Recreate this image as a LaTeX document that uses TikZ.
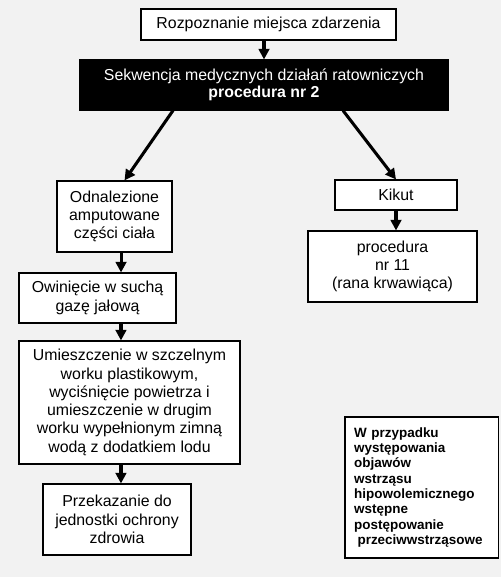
\documentclass[tikz,border=0pt]{standalone}
\usepackage{fontspec}
\setmainfont{Liberation Sans}
\usetikzlibrary{arrows.meta}
\tikzset{
  box/.style={draw=black, fill=white, line width=0.8pt, inner sep=0pt, align=center,
    font=\fontsize{11.9}{13.7}\selectfont},
  blackbox/.style={box, fill=black, text=white, font=\fontsize{11.9}{12.9}\selectfont},
  notebox/.style={draw=black, fill=white, line width=0.8pt, inner sep=0pt, align=left,
    font=\fontsize{10.1}{11.5}\selectfont\bfseries},
  arr/.style={line width=2.3pt, -{Triangle[length=8pt,width=8pt]}}
}
\begin{document}
\begin{tikzpicture}[x=0.75pt,y=-0.75pt]
\useasboundingbox[fill={rgb,255:red,242;green,242;blue,242}] (0,0) rectangle (501,577);
% boxes
\node[box, minimum width=191.25pt, minimum height=23.25pt] (rozp) at (268.5,24.5) {Rozpoznanie miejsca zdarzenia};
\node[blackbox, minimum width=276pt, minimum height=37.5pt] (seq) at (264,85) {Sekwencja medycznych działań ratowniczych\\\textbf{procedura nr 2}};
\node[box, minimum width=86.25pt, minimum height=53.25pt] (odn) at (114.5,216.5) {Odnalezione\\amputowane\\ części ciała};
\node[box, minimum width=117.75pt, minimum height=37.5pt] (owin) at (97.5,298) {Owinięcie w suchą\\gazę jałową};
\node[box, minimum width=165.75pt, minimum height=92.25pt] (umi) at (129.5,402.5) {Umieszczenie w szczelnym\\worku plastikowym,\\wyciśnięcie powietrza i\\umieszczenie w drugim\\worku wypełnionym zimną\\wodą z dodatkiem lodu};
\node[box, minimum width=111pt, minimum height=53.25pt] (prz) at (117,519.5) {Przekazanie do\\jednostki ochrony\\zdrowia};
\node[box, minimum width=91.5pt, minimum height=22.5pt] (kikut) at (396,195) {Kikut};
\node[box, minimum width=126.75pt, minimum height=53.25pt] (proc) at (392.5,266.5) {procedura\\nr 11\\(rana krwawiąca)};
\node[notebox, minimum width=114.75pt, minimum height=105.75pt, text width=101pt, inner xsep=6.9pt] (note) at (421.5,487.5) {W przypadku\\występowania\\objawów\\wstrząsu\\hipowolemicznego\\wstępne\\postępowanie\\\hspace{0.25em}przeciwwstrząsowe};
% arrows
\draw[arr] (rozp.south -| seq) -- (seq.north);
\draw[arr] ([xshift=-68.25pt]seq.south) -- ([xshift=7.5pt]odn.north);
\draw[arr] ([xshift=59.25pt]seq.south) -- (kikut.north);
\draw[arr] ([xshift=4.9pt]odn.south) -- ([xshift=4.9pt]odn.south |- owin.north);
\draw[arr] ([xshift=17.6pt]owin.south) -- ([xshift=17.6pt]owin.south |- umi.north);
\draw[arr] ([xshift=-6.4pt]umi.south) -- ([xshift=-6.4pt]umi.south |- prz.north);
\draw[arr] (kikut.south) -- (kikut.south |- proc.north);
\end{tikzpicture}
\end{document}
